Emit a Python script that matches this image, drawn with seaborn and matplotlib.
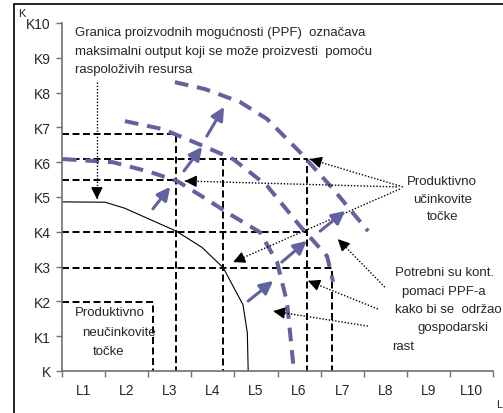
import matplotlib
matplotlib.use("Agg")
import matplotlib.pyplot as plt
import seaborn as sns
import pandas as pd
from matplotlib.lines import Line2D

sns.set_style("white")
plt.rcParams['font.family'] = ['Liberation Sans', 'DejaVu Sans']

# axis labels
x_labels = ['L1', 'L2', 'L3', 'L4', 'L5', 'L6', 'L7', 'L8', 'L9', 'L10']
y_labels = ['K', 'K1', 'K2', 'K3', 'K4', 'K5', 'K6', 'K7', 'K8', 'K9', 'K10']

# original PPF (solid black)
ppf_x = [0, 1.0, 1.45, 2.65, 3.25, 3.74, 4.2, 4.3, 4.32]
ppf_y = [4.86, 4.85, 4.68, 4.02, 3.55, 2.97, 1.9, 1.1, 0]

# shifted PPFs (blue dashed)
inner_x = [0.02, 1.18, 2.04, 2.67, 3.27, 3.97, 4.59, 4.99, 5.22, 5.36, 5.36]
inner_y = [6.09, 6.0, 5.72, 5.46, 5.0, 4.45, 3.99, 3.13, 1.98, 0.26, 0]
middle_x = [1.46, 2.34, 3.27, 3.97, 4.76, 5.52, 6.15, 6.29]
middle_y = [7.18, 6.95, 6.47, 6.09, 5.32, 4.17, 3.30, 2.56]
outer_x = [2.62, 3.32, 4.13, 4.76, 5.52, 6.29, 7.10]
outer_y = [8.30, 8.10, 7.73, 7.24, 6.29, 5.23, 4.02]

# black dashed guide lines
guide_x = [[0, 2.645, 2.645], [0, 5.68, 5.68], [0, 2.645], [3.74, 3.74],
           [0, 5.68], [0, 6.26, 6.26], [0, 2.11, 2.11]]
guide_y = [[6.81, 6.81, 0], [6.09, 6.09, 0], [5.49, 5.49], [6.09, 0],
           [4.0, 4.0], [2.96, 2.96, 0], [1.98, 1.98, 0]]

# blue growth arrows (start -> end)
growth_start = [(2.11, 4.66), (2.83, 5.75), (3.36, 6.75), (4.32, 2.01), (5.10, 3.13), (5.99, 4.02)]
growth_end = [(2.51, 5.29), (3.25, 6.44), (3.76, 7.59), (4.90, 2.59), (5.68, 3.74), (6.57, 4.60)]

# dotted annotation arrows (start -> end)
note_start = [(0.81, 8.30), (7.91, 5.29), (7.77, 5.29), (7.84, 5.23), (7.49, 2.41), (7.33, 1.78), (7.10, 1.29)]
note_end = [(0.81, 4.94), (5.75, 6.09), (2.85, 5.46), (3.97, 3.13), (6.40, 3.79), (5.71, 2.59), (4.90, 1.72)]

blue = '#6262a0'

def to_frame(xs, ys):
    rows = []
    for i, (lx, ly) in enumerate(zip(xs, ys)):
        for a, b in zip(lx, ly):
            rows.append({'line': i, 'x': a, 'y': b})
    return pd.DataFrame(rows)

fig = plt.figure(figsize=(5.03, 4.14), dpi=100)
ax = fig.add_axes([62 / 503, 42 / 414, 431 / 503, 348 / 414])

guides = to_frame(guide_x, guide_y)
sns.lineplot(data=guides, x='x', y='y', units='line', estimator=None, sort=False,
             color='black', lw=1.4, linestyle=(0, (3.6, 1.8)), ax=ax)

ppf = pd.DataFrame({'x': ppf_x, 'y': ppf_y})
sns.lineplot(data=ppf, x='x', y='y', sort=False, estimator=None, color='black', lw=0.8, ax=ax)

shifts = to_frame([inner_x, middle_x, outer_x], [inner_y, middle_y, outer_y])
sns.lineplot(data=shifts, x='x', y='y', units='line', estimator=None, sort=False,
             color=blue, lw=2.9, linestyle=(0, (3.4, 2.2)), ax=ax)

for s, e in zip(growth_start, growth_end):
    ax.annotate('', xy=e, xytext=s,
                arrowprops=dict(arrowstyle='-|>,head_length=0.6,head_width=0.3',
                                color=blue, lw=2.2, mutation_scale=13, shrinkA=0, shrinkB=0))

for s, e in zip(note_start, note_end):
    # dotted shaft
    ax.plot([s[0], e[0]], [s[1], e[1]], color='black', lw=1.0, linestyle=(0, (1, 1.3)))
    # solid head
    dx, dy = e[0] - s[0], e[1] - s[1]
    ax.annotate('', xy=e, xytext=(e[0] - dx * 0.05, e[1] - dy * 0.05),
                arrowprops=dict(arrowstyle='-|>,head_length=0.7,head_width=0.35',
                                color='black', lw=1.0, mutation_scale=10, shrinkA=0, shrinkB=0))

fs = 9.5
ax.text(0.30, 9.74, 'Granica proizvodnih mogućnosti (PPF)  označava', fontsize=fs, va='center')
ax.text(0.30, 9.20, 'maksimalni output koji se može proizvesti  pomoću', fontsize=fs, va='center')
ax.text(0.30, 8.68, 'raspoloživih resursa', fontsize=fs, va='center')

ax.text(8.00, 5.46, 'Produktivno', fontsize=fs, va='center')
ax.text(8.14, 4.94, 'učinkovite', fontsize=fs, va='center')
ax.text(8.47, 4.45, 'točke', fontsize=fs, va='center')

ax.text(7.73, 2.84, 'Potrebni su kont.', fontsize=fs, va='center')
ax.text(7.89, 2.30, 'pomaci PPF-a', fontsize=fs, va='center')
ax.text(7.73, 1.78, 'kako bi se  održao', fontsize=fs, va='center')
ax.text(8.24, 1.26, 'gospodarski', fontsize=fs, va='center')
ax.text(7.66, 0.72, 'rast', fontsize=fs, va='center')

ax.text(0.30, 1.70, 'Produktivno', fontsize=fs, va='center')
ax.text(0.46, 1.12, 'neučinkovite', fontsize=fs, va='center')
ax.text(0.72, 0.57, 'točke', fontsize=fs, va='center')

ax.set_xlim(0, 10)
ax.set_ylim(0, 10)
ax.set_xticks(range(11))
ax.set_xticklabels([])
ax.set_xticks([i + 0.5 for i in range(10)], minor=True)
ax.set_xticklabels(x_labels, minor=True)
ax.set_yticks(range(11))
ax.set_yticklabels(y_labels)
ax.tick_params(axis='x', which='major', length=4, width=1, color='#707070', direction='out', bottom=True)
ax.tick_params(axis='x', which='minor', length=0, pad=9, labelsize=10)
ax.tick_params(axis='y', length=4, width=1, color='#707070', direction='out', left=True, pad=4, labelsize=10)
ax.set_xlabel('')
ax.set_ylabel('')
for side in ['top', 'right']:
    ax.spines[side].set_visible(False)
for side in ['left', 'bottom']:
    ax.spines[side].set_color('#707070')
    ax.spines[side].set_linewidth(1.2)
ax.patch.set_alpha(0)

fig.text(18 / 503, 1 - 14 / 414, 'K', fontsize=8, va='center')
fig.text(496 / 503, 1 - 405 / 414, 'L', fontsize=8, va='center')

fig.add_artist(Line2D([14 / 503, 14 / 503], [0, 1 - 5 / 414], color='black', lw=1.2))
fig.add_artist(Line2D([14 / 503, 1], [1 - 5 / 414, 1 - 5 / 414], color='black', lw=1.2))

fig.savefig('out.png', dpi=100)
